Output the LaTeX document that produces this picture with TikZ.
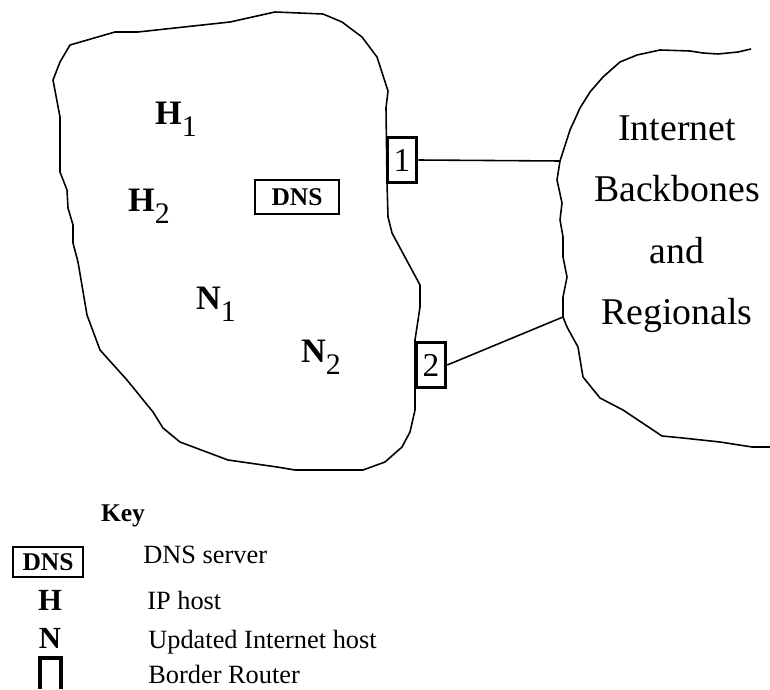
\documentclass[tikz,border=0pt]{standalone}
\usepackage{fontspec}
\setmainfont{Liberation Serif}
\usepackage{tikz}
\usetikzlibrary{positioning}
\newcommand{\lowidx}[1]{\raisebox{-0.36em}{\fontsize{17}{17}\selectfont #1}}
\tikzstyle{cloud} = [line width=0.9pt, line join=round]
\tikzstyle{lbl} = [font=\fontsize{19.5}{20}\selectfont, inner sep=0pt]
\tikzstyle{router} = [draw, line width=2pt, fill=white, minimum width=0.58cm, minimum height=0.9cm, inner sep=0pt, font=\fontsize{19}{20}\selectfont]
\tikzstyle{dnsbox} = [draw, line width=1.1pt, fill=white, inner sep=0pt, font=\bfseries\fontsize{14.5}{15}\selectfont]
\tikzstyle{keytext} = [anchor=base west, inner sep=0pt, font=\fontsize{15}{15}\selectfont]
\tikzstyle{keysym} = [anchor=base, inner sep=0pt, font=\bfseries\fontsize{17.5}{18}\selectfont]

\begin{document}
\begin{tikzpicture}[x=0.02cm,y=-0.02cm]
\useasboundingbox (0,0) rectangle (770,689);
% local site
\draw [cloud] (70,45) -- (115,32) -- (138,32) -- (230,22) -- (275,12) -- (323,14)
  -- (342,22) -- (362,37) -- (377,57) -- (388,91) -- (386,108) -- (387,182)
  -- (388,217) -- (392,233) -- (420,285) -- (420,307) -- (415,340) -- (415,410)
  -- (410,432) -- (402,447) -- (385,462) -- (363,470) -- (295,470) -- (277,467)
  -- (228,460) -- (180,442) -- (163,428) -- (153,412) -- (127,380) -- (100,350)
  -- (87,315) -- (78,262) -- (73,243) -- (73,225) -- (68,208) -- (67,190)
  -- (60,172) -- (60,117) -- (53,80) -- (60,62) -- cycle;
% backbones
\draw [cloud] (751,49) -- (738,52) -- (718,54) -- (703,53) -- (690,51) -- (660,50)
  -- (637,55) -- (620,62) -- (603,77) -- (590,92) -- (580,108) -- (570,130)
  -- (560,161) -- (557,180) -- (562,203) -- (560,220) -- (563,237) -- (563,257)
  -- (567,277) -- (563,297) -- (563,317) -- (567,327) -- (578,347) -- (583,377)
  -- (600,398) -- (623,410) -- (662,436) -- (683,438) -- (720,442) -- (752,447)
  -- (770,447);
\coordinate (bb1) at (560,161);
\coordinate (bb2) at (563,317);
\node [lbl, font=\fontsize{21.5}{35}\selectfont, align=center] (inet) at (677,224)
  {Internet\\Backbones\\and\\Regionals};

% hosts and server
\node [lbl] (h1) at (176,119) {\textbf{H}\lowidx{1}};
\node [lbl] (h2) at (149,206) {\textbf{H}\lowidx{2}};
\node [lbl] (n1) at (216,304) {\textbf{N}\lowidx{1}};
\node [lbl] (n2) at (321,357) {\textbf{N}\lowidx{2}};
\node [dnsbox, minimum width=1.68cm, minimum height=0.68cm] (dns) at (297,197) {DNS};

% border routers
\node [router] (r1) at (402,160) {1};
\node [router] (r2) at (431,365) {2};
\draw [line width=0.9pt] (r1.east) -- (bb1);
\draw [line width=0.9pt] (r2.east) -- (bb2);

% key
\node [keytext, anchor=base, font=\bfseries\fontsize{14.5}{15}\selectfont] (key) at (123,521) {Key};
\node [dnsbox, minimum width=1.4cm, minimum height=0.6cm] (kdns) at (48,562) {DNS};
\node [keysym] (kh) at (50,610) {H};
\node [keysym] (kn) at (50,648) {N};
\draw [line width=2pt] (40,689) -- (40,658) -- (61,658) -- (61,689);
\node [keytext] (tdns) at (143,563) {DNS server};
\node [keytext] (th) at (147,609) {IP host};
\node [keytext] (tn) at (148,648) {Updated Internet host};
\node [keytext] (tr) at (148,683) {Border Router};
\end{tikzpicture}
\end{document}
